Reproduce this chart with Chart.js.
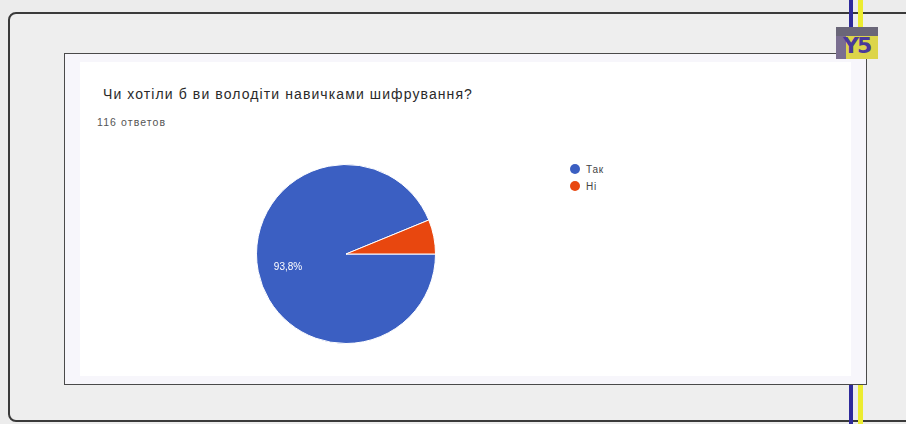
<!DOCTYPE html>
<html>
<head>
<meta charset="utf-8">
<script src="https://cdn.jsdelivr.net/npm/chart.js@4.4.0/dist/chart.umd.min.js"></script>
<style>
  html,body{margin:0;padding:0;width:906px;height:424px;overflow:hidden;background:#ececec;font-family:"Liberation Sans",Arial,sans-serif;}
  .abs{position:absolute;}
  #outer{left:8px;top:12px;width:920px;height:410px;border:2px solid #3a3a3a;border-radius:8px;background:#eeeeee;box-sizing:border-box;}
  #stripeB1{left:849px;top:0;width:4px;height:30px;background:#2e2a9a;}
  #stripeY1{left:858px;top:0;width:5px;height:30px;background:#ecec30;}
  #stripeB2{left:849px;top:385px;width:4px;height:39px;background:#2e2a9a;}
  #stripeY2{left:858px;top:385px;width:5px;height:39px;background:#ecec30;}
  #inner{left:64px;top:53px;width:803px;height:332px;border:1.5px solid #4a4a4a;background:#f7f6fb;box-sizing:border-box;}
  #panel{left:80px;top:62px;width:771px;height:314px;background:#ffffff;}
  #title{left:103px;top:86px;font-size:14px;letter-spacing:1.1px;color:#2a2a2a;white-space:nowrap;}
  #sub{left:97px;top:116px;font-size:10.5px;letter-spacing:1.1px;color:#555;white-space:nowrap;}
  #legend{left:570px;top:163px;font-size:10px;letter-spacing:0.8px;color:#444;}
  .li{height:17px;line-height:14px;white-space:nowrap;}
  .dot{display:inline-block;width:10px;height:10px;border-radius:50%;vertical-align:-1px;margin-right:6px;}
  #logo{left:836px;top:27px;width:42px;height:32px;background:#dcd54a;overflow:hidden;}
  #logoTop{left:0;top:0;width:42px;height:9px;background:#6a6678;}
  #logoTxt{left:7px;top:6px;font-size:22px;font-weight:bold;color:#4a3a9a;font-family:"DejaVu Sans",sans-serif;letter-spacing:-2px;}
  #logoL{left:0;top:9px;width:10px;height:23px;background:#7a6e90;}
  #cv{left:236px;top:144px;}
</style>
</head>
<body>
<div id="outer" class="abs"></div>
<div id="stripeB1" class="abs"></div>
<div id="stripeY1" class="abs"></div>
<div id="stripeB2" class="abs"></div>
<div id="stripeY2" class="abs"></div>
<div id="inner" class="abs"></div>
<div id="panel" class="abs"></div>
<div id="logo" class="abs"><div id="logoTop" class="abs"></div><div id="logoL" class="abs"></div><div id="logoTxt" class="abs">Y5</div></div>
<div id="title" class="abs"></div>
<div id="sub" class="abs"></div>
<div id="legend" class="abs"></div>
<canvas id="cv" class="abs" width="220" height="220"></canvas>
<script>
const titleText = "Чи хотіли б ви володіти навичками шифрування?";
const responsesText = "116 ответов";
const categories = ["Так", "Ні"];
const percentValues = [93.8, 6.2];
const sliceColors = ["#3b5fc2", "#e8470f"];

document.getElementById('title').textContent = titleText;
document.getElementById('sub').textContent = responsesText;
const lg = document.getElementById('legend');
categories.forEach((c, i) => {
  const d = document.createElement('div');
  d.className = 'li';
  d.innerHTML = '<span class="dot" style="background:' + sliceColors[i] + '"></span>' + c;
  lg.appendChild(d);
});

const pctLabels = {
  id: 'pctLabels',
  afterDatasetsDraw(chart) {
    const ctx = chart.ctx;
    const meta = chart.getDatasetMeta(0);
    const total = percentValues.reduce((a, b) => a + b, 0);
    meta.data.forEach((arc, i) => {
      const share = percentValues[i] / total;
      if (share < 0.1) return;
      const p = arc.getProps(['x', 'y', 'startAngle', 'endAngle', 'outerRadius'], true);
      const mid = (p.startAngle + p.endAngle) / 2;
      const r = p.outerRadius * 0.66;
      ctx.save();
      ctx.fillStyle = '#ffffff';
      ctx.font = '10px "Liberation Sans", Arial, sans-serif';
      ctx.textAlign = 'center';
      ctx.textBaseline = 'middle';
      ctx.fillText(percentValues[i].toFixed(1).replace('.', ',') + '%', p.x + r * Math.cos(mid), p.y + r * Math.sin(mid) + 2);
      ctx.restore();
    });
  }
};

new Chart(document.getElementById('cv'), {
  type: 'pie',
  data: {
    labels: categories,
    datasets: [{
      data: percentValues,
      backgroundColor: sliceColors,
      borderColor: '#ffffff',
      borderWidth: 1
    }]
  },
  options: {
    responsive: false,
    animation: false,
    rotation: 90,
    layout: { padding: 20 },
    plugins: { legend: { display: false }, tooltip: { enabled: false } }
  },
  plugins: [pctLabels]
});
</script>
</body>
</html>
